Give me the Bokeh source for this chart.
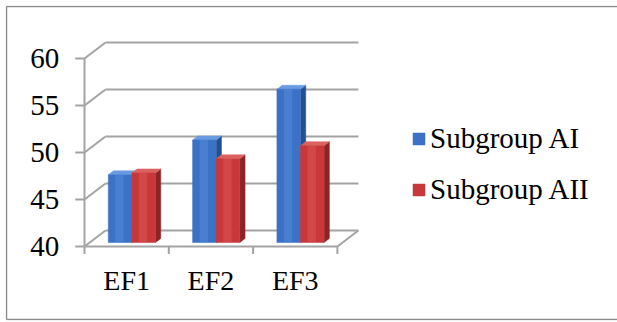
from bokeh.plotting import figure
from bokeh.models import Range1d, Legend, LegendItem, ColumnDataSource
from bokeh.core.properties import value
from bokeh.embed import file_html
from bokeh.resources import INLINE

# ---- data ----
categories = ["EF1", "EF2", "EF3"]
series_names = ["Subgroup AI", "Subgroup AII"]
subgroup_ai = [47.2, 50.9, 56.3]
subgroup_aii = [47.4, 48.9, 50.3]
y_ticks = [40, 45, 50, 55, 60]

# ---- layout constants ----
W, H = 617, 322
BL, BT, BB, BR = 5, 5, 2, 0
PX_X, PX_Y = 84.3, 9.4          # pixels per x unit / per y unit
X0_PX, Y0_PX = 84, 246           # canvas position of (x=0, y=40) on the front plane
Y_MIN, Y_MAX = 40, 60
DX, DY = 21 / PX_X, 16 / PX_Y    # full depth offset of the 3-D box
FONT = value("Liberation Serif")
GRID = "#a3a3a3"

fw, fh = W - BL - BR, H - BT - BB
x_start = -(X0_PX - BL) / PX_X
x_end = x_start + fw / PX_X
y_start = Y_MIN - (H - BB - Y0_PX) / PX_Y
y_end = y_start + fh / PX_Y

p = figure(width=W, height=H, output_backend="svg", toolbar_location=None,
           x_axis_type=None, y_axis_type=None,
           x_range=Range1d(x_start, x_end), y_range=Range1d(y_start, y_end),
           min_border_left=BL, min_border_right=BR, min_border_top=BT,
           min_border_bottom=BB)
p.outline_line_color = None
p.background_fill_color = "white"
p.border_fill_color = "white"

# outer border (left, top, bottom)
ex, ey = 1 / PX_X, 1 / PX_Y
p.segment(x0=[x_start + ex, x_start + ex, x_start + ex],
          y0=[y_start + ey, y_end - ey, y_start + ey],
          x1=[x_start + ex, x_end, x_end],
          y1=[y_end - ey, y_end - ey, y_start + ey],
          line_color="#8c8c8c", line_width=1.5)

n = len(categories)
# back wall grid lines + diagonals
p.segment(x0=[DX] * len(y_ticks), y0=[t + DY for t in y_ticks],
          x1=[n + DX] * len(y_ticks), y1=[t + DY for t in y_ticks],
          line_color=GRID, line_width=2)
p.segment(x0=[0] * len(y_ticks), y0=y_ticks,
          x1=[DX] * len(y_ticks), y1=[t + DY for t in y_ticks],
          line_color=GRID, line_width=2)
# floor front edge & right edge
p.segment(x0=[0, n], y0=[Y_MIN, Y_MIN], x1=[n, n + DX], y1=[Y_MIN, Y_MIN + DY],
          line_color=GRID, line_width=2)
# front value axis
p.segment(x0=[0], y0=[Y_MIN], x1=[0], y1=[Y_MAX], line_color=GRID, line_width=2)
# value ticks
p.segment(x0=[-0.11] * len(y_ticks), y0=y_ticks, x1=[0] * len(y_ticks), y1=y_ticks,
          line_color=GRID, line_width=2)
# category ticks
p.segment(x0=list(range(n + 1)), y0=[Y_MIN] * (n + 1),
          x1=list(range(n + 1)), y1=[Y_MIN - 0.8] * (n + 1),
          line_color=GRID, line_width=2)

# value labels
p.text(x=[-0.30] * len(y_ticks), y=y_ticks, text=[str(t) for t in y_ticks],
       text_font=FONT, text_font_size=value("29px"), text_color="black",
       text_align="right", text_baseline="middle")
# category labels
p.text(x=[i + 0.5 for i in range(n)], y=[Y_MIN - 3.6] * n, text=categories,
       text_font=FONT, text_font_size=value("28px"), text_color="black",
       text_align="center", text_baseline="middle")

# ---- 3-D bars ----
D_FRONT, D_BACK = 0.25, 0.5
BAR_L = [0.22, 0.5]
BAR_W = 0.28
colors = [
    dict(front="#3b72c6", light="#5a90de", side="#24508f", top="#6a9ae0"),
    dict(front="#c8383a", light="#de5a58", side="#8c2426", top="#dc6260"),
]
front_renderers = []
for s, vals in enumerate([subgroup_ai, subgroup_aii]):
    c = colors[s]
    fx, fy = D_FRONT * DX, D_FRONT * DY
    dd_x, dd_y = (D_BACK - D_FRONT) * DX, (D_BACK - D_FRONT) * DY
    left = [i + BAR_L[s] + fx for i in range(n)]
    right = [l + BAR_W for l in left]
    bottom = [Y_MIN + fy] * n
    top = [v + fy for v in vals]
    # side face
    p.patches(xs=[[r, r + dd_x, r + dd_x, r] for r in right],
              ys=[[b, b + dd_y, t + dd_y, t] for b, t in zip(bottom, top)],
              fill_color=c["side"], line_color=c["side"], line_width=0.5)
    # top face
    p.patches(xs=[[l, r, r + dd_x, l + dd_x] for l, r in zip(left, right)],
              ys=[[t, t, t + dd_y, t + dd_y] for t in top],
              fill_color=c["top"], line_color=c["top"], line_width=0.5)
    # front face
    src = ColumnDataSource(dict(left=left, right=right, bottom=bottom, top=top))
    fr = p.quad(left="left", right="right", bottom="bottom", top="top", source=src,
                fill_color=c["front"], line_color=c["front"], line_width=0.5)
    # highlight band
    p.quad(left=[l + BAR_W * 0.3 for l in left], right=[l + BAR_W * 0.65 for l in left],
           bottom=bottom, top=top, fill_color=c["light"], fill_alpha=0.45,
           line_color=None)
    front_renderers.append(fr)

legend = Legend(items=[LegendItem(label=series_names[i], renderers=[front_renderers[i]])
                       for i in range(2)],
                location=(406, 114))
legend.label_text_font = "Liberation Serif"
legend.label_text_font_size = "29px"
legend.label_text_color = "black"
legend.glyph_width = 15
legend.glyph_height = 15
legend.label_standoff = 4
legend.spacing = 18
legend.padding = 0
legend.margin = 0
legend.border_line_color = None
legend.background_fill_alpha = 0
p.add_layout(legend)

open("out.html", "w").write(file_html(p, INLINE))
